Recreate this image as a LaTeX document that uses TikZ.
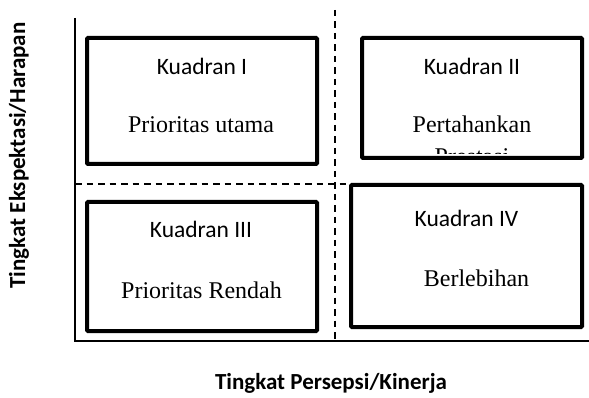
\documentclass[tikz,border=0pt]{standalone}
\usepackage{fontspec}
\setmainfont{Liberation Serif}
\newfontfamily\carlito{Carlito}
\begin{document}
\begin{tikzpicture}[x=1pt,y=-1pt,
  quad/.style={draw=black, line width=4pt, fill=white, rounded corners=1pt, inner sep=0pt},
  kname/.style={font=\carlito\fontsize{23.5}{28}\selectfont, anchor=base, inner sep=0pt},
  kdesc/.style={font=\fontsize{24}{28}\selectfont, anchor=base, inner sep=0pt},
  axlabel/.style={font=\carlito\bfseries\fontsize{23}{28}\selectfont, anchor=base, inner sep=0pt},
  axisline/.style={line width=1.5pt},
  divider/.style={line width=1.5pt, dash pattern=on 6.5pt off 5pt}]
\useasboundingbox (0,0) rectangle (589,398);
% axes and dividers
\coordinate (o) at (75,341);
\coordinate (ytop) at (75,18);
\coordinate (xend) at (589,341);
\coordinate (vtop) at (335,10);
\coordinate (vbot) at (335,341);
\coordinate (hl) at (75,184);
\coordinate (hr) at (560,184);
\draw[divider] (vtop) -- (vbot);
\draw[divider] (hl) -- (hr);
\draw[axisline] (ytop) -- (o) -- (xend);
% quadrant boxes
\node[quad, minimum width=230pt, minimum height=126pt] (q1) at (202,101) {};
\node[quad, minimum width=220pt, minimum height=120pt] (q2) at (472,98) {};
\node[quad, minimum width=230pt, minimum height=129pt] (q3) at (202,266.5) {};
\node[quad, minimum width=231pt, minimum height=142pt] (q4) at (466.5,256) {};
% texts
\node[kname] (k1) at (202,75) {Kuadran I};
\node[kdesc] (d1) at (201,133) {Prioritas utama};
\node[kname] (k2) at (472,75) {Kuadran II};
\node[kdesc] (d2) at (472,133) {Pertahankan};
\begin{scope}
  \clip (364,40) rectangle (580,154);
  \node[kdesc] (d2b) at (472,165) {Prestasi};
\end{scope}
\node[kname] (k3) at (201,237) {Kuadran III};
\node[kdesc] (d3) at (201.5,298) {Prioritas Rendah};
\node[kname] (k4) at (466.5,227) {Kuadran IV};
\node[kdesc] (d4) at (476.5,287) {Berlebihan};
% axis labels
\node[axlabel] (xl) at (331,389) {Tingkat Persepsi/Kinerja};
\node[axlabel, rotate=90] (yl) at (25,155.5) {Tingkat Ekspektasi/Harapan};
\end{tikzpicture}
\end{document}
